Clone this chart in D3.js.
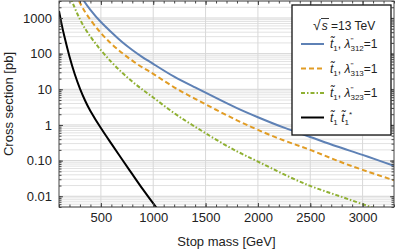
<!DOCTYPE html>
<html>
<head>
<meta charset="utf-8">
<script src="https://cdn.jsdelivr.net/npm/d3@7"></script>
<style>
  body { margin: 0; background: #fff; }
  text { font-family: "Liberation Sans", Arial, sans-serif; }
</style>
</head>
<body>
<div id="chart"></div>
<script>
// single stop masses (GeV) and cross sections (pb)
var stopMass = [200, 300, 400, 500, 600, 700, 800, 900, 1000, 1200, 1400, 1600, 1800, 2000, 2250, 2500, 2750, 3000, 3300];
var xsecL312 = [18000, 4600, 1690, 771, 401, 216, 127, 79, 51.7, 22.6, 11.3, 5.74, 2.97, 1.65, 0.84, 0.46, 0.252, 0.145, 0.071];
var xsecL313 = [12500, 2670, 891, 382, 190, 106, 63.7, 40.6, 27.2, 11.4, 5.43, 2.67, 1.35, 0.73, 0.366, 0.2, 0.102, 0.055, 0.028];
var xsecL323 = [4450, 920, 302, 125, 58.5, 29.9, 16.5, 9.67, 5.9, 2.15, 0.89, 0.39, 0.182, 0.094, 0.041, 0.0195, 0.0108, 0.006, 0.003];

// stop pair production
var pairMass = [100, 125, 150, 200, 250, 300, 350, 400, 500, 600, 700, 800, 900, 1000, 1100];
var pairXsec = [1585, 676, 316, 83, 26.9, 10.5, 4.79, 2.48, 0.82, 0.30, 0.111, 0.0417, 0.0158, 0.0063, 0.0026];

var yTicks = [1000, 100, 10, 1, 0.1, 0.01];
var yTickLabels = ["1000", "100", "10", "1", "0.10", "0.01"];
var xTicks = [500, 1000, 1500, 2000, 2500, 3000];

var svgWidth = 399;
var svgHeight = 252;

var chartMargin = {
    top: 1,
    right: 5,
    bottom: 45,
    left: 59
};

var chartWidth = svgWidth - chartMargin.left - chartMargin.right;
var chartHeight = svgHeight - chartMargin.top - chartMargin.bottom;

var svg = d3.select("#chart")
    .append("svg")
    .attr("height", svgHeight)
    .attr("width", svgWidth);

var chartGroup = svg.append("g")
    .attr("transform", `translate(${chartMargin.left},${chartMargin.top})`);

var xScale = d3.scaleLinear()
    .domain([100, 3300])
    .range([0, chartWidth]);

var yScale = d3.scaleLog()
    .domain([0.005, 3000])
    .range([chartHeight, 0]);

// grid
var minorY = [];
for (var e = -3; e <= 3; e++) {
    for (var k = 1; k <= 9; k++) {
        var v = k * Math.pow(10, e);
        if (v >= 0.005 && v <= 3000) minorY.push(v);
    }
}
var minorX = d3.range(100, 3301, 100);

chartGroup.append("g").selectAll("line")
    .data(minorY)
    .enter()
    .append("line")
    .attr("x1", 0)
    .attr("x2", chartWidth)
    .attr("y1", d => yScale(d))
    .attr("y2", d => yScale(d))
    .attr("stroke", d => yTicks.indexOf(d) >= 0 ? "#d4d4d4" : "#e2e2e2")
    .attr("stroke-width", 1);

chartGroup.append("g").selectAll("line")
    .data(xTicks)
    .enter()
    .append("line")
    .attr("x1", d => xScale(d))
    .attr("x2", d => xScale(d))
    .attr("y1", 0)
    .attr("y2", chartHeight)
    .attr("stroke", "#d8d8d8")
    .attr("stroke-width", 1);

// curves
svg.append("defs").append("clipPath")
    .attr("id", "plotClip")
    .append("rect")
    .attr("width", chartWidth)
    .attr("height", chartHeight);

var line = d3.line()
    .x(d => xScale(d[0]))
    .y(d => yScale(d[1]))
    .curve(d3.curveNatural);

var series = [
    { mass: stopMass, xsec: xsecL312, color: "#5E81B5", dash: null },
    { mass: stopMass, xsec: xsecL313, color: "#E19C24", dash: "5,3" },
    { mass: stopMass, xsec: xsecL323, color: "#8FB032", dash: "4,2,1.5,2" },
    { mass: pairMass, xsec: pairXsec, color: "#000000", dash: null }
];

var curves = chartGroup.append("g").attr("clip-path", "url(#plotClip)");
series.forEach(function(s) {
    curves.append("path")
        .datum(s.mass.map((m, i) => [m, s.xsec[i]]))
        .attr("d", line)
        .attr("fill", "none")
        .attr("stroke", s.color)
        .attr("stroke-width", 2)
        .attr("stroke-dasharray", s.dash);
});

// axes, ticks pointing inwards
function styleAxis(g) {
    g.select(".domain").remove();
    g.selectAll(".tick line").attr("stroke", "#444");
    g.selectAll(".tick text")
        .attr("fill", "#222")
        .style("font-size", "13px")
        .style("font-family", "'Liberation Sans', Arial, sans-serif");
}

var bottomAxis = d3.axisBottom(xScale).tickValues(xTicks).tickSize(-4).tickPadding(6).tickFormat(d3.format("d"));
var bottomMinor = d3.axisBottom(xScale).tickValues(minorX).tickSize(-2.5).tickFormat("");
var topAxis = d3.axisTop(xScale).tickValues(xTicks).tickSize(-4).tickFormat("");
var topMinor = d3.axisTop(xScale).tickValues(minorX).tickSize(-2.5).tickFormat("");

var leftAxis = d3.axisLeft(yScale).tickValues(yTicks).tickSize(-4).tickPadding(7)
    .tickFormat((d, i) => yTickLabels[i]);
var leftMinor = d3.axisLeft(yScale).tickValues(minorY).tickSize(-2.5).tickFormat("");
var rightAxis = d3.axisRight(yScale).tickValues(yTicks).tickSize(-4).tickFormat("");
var rightMinor = d3.axisRight(yScale).tickValues(minorY).tickSize(-2.5).tickFormat("");

chartGroup.append("g").attr("transform", `translate(0, ${chartHeight})`).call(bottomMinor).call(styleAxis);
chartGroup.append("g").attr("transform", `translate(0, ${chartHeight})`).call(bottomAxis).call(styleAxis);
chartGroup.append("g").call(topMinor).call(styleAxis);
chartGroup.append("g").call(topAxis).call(styleAxis);
chartGroup.append("g").call(leftMinor).call(styleAxis);
chartGroup.append("g").call(leftAxis).call(styleAxis);
chartGroup.append("g").attr("transform", `translate(${chartWidth}, 0)`).call(rightMinor).call(styleAxis);
chartGroup.append("g").attr("transform", `translate(${chartWidth}, 0)`).call(rightAxis).call(styleAxis);

// frame
chartGroup.append("rect")
    .attr("width", chartWidth)
    .attr("height", chartHeight)
    .attr("fill", "none")
    .attr("stroke", "#444")
    .attr("stroke-width", 1);

// axis titles
chartGroup.append("text")
    .text("Stop mass [GeV]")
    .attr("x", chartWidth / 2)
    .attr("y", chartHeight + 39)
    .attr("text-anchor", "middle")
    .attr("fill", "#222")
    .style("font-size", "13px");

chartGroup.append("text")
    .text("Cross section [pb]")
    .attr("x", 0 - (chartHeight / 2))
    .attr("y", 0 - 46)
    .attr("text-anchor", "middle")
    .attr("fill", "#222")
    .attr("transform", "rotate(-90)")
    .style("font-size", "13px");

// legend
var legend = svg.append("g").attr("transform", "translate(292, 5)");

legend.append("rect")
    .attr("width", 99)
    .attr("height", 130)
    .attr("fill", "#fff")
    .attr("stroke", "#111")
    .attr("stroke-width", 1.3);

var title = legend.append("text")
    .attr("x", 21)
    .attr("y", 25)
    .attr("fill", "#222")
    .style("font-size", "12px");
title.append("tspan").text("\u221A").style("font-size", "14px");
title.append("tspan").text("s").style("font-style", "italic").attr("dx", 1);
title.append("tspan").text(" =13 TeV");
legend.append("line")
    .attr("x1", 29).attr("x2", 37)
    .attr("y1", 13.5).attr("y2", 13.5)
    .attr("stroke", "#222").attr("stroke-width", 0.9);

var legendCodes = ["312", "313", "323"];
series.forEach(function(s, i) {
    var ly = 39 + i * 24.5;
    legend.append("line")
        .attr("x1", 9).attr("x2", 32)
        .attr("y1", ly).attr("y2", ly)
        .attr("stroke", s.color)
        .attr("stroke-width", 2)
        .attr("stroke-dasharray", s.dash);

    var t = legend.append("text")
        .attr("x", 38)
        .attr("y", ly + 4)
        .attr("fill", "#222")
        .style("font-size", "12px");
    t.append("tspan").text("t\u0303").style("font-style", "italic");
    t.append("tspan").text("1").style("font-size", "8px").attr("dy", 3);
    if (i < 3) {
        t.append("tspan").text(", ").attr("dy", -3);
        t.append("tspan").text("\u03BB").style("font-style", "italic");
        t.append("tspan").text("''").style("font-size", "8px").attr("dy", -5);
        t.append("tspan").text(legendCodes[i]).style("font-size", "8px").attr("dx", -3).attr("dy", 8);
        t.append("tspan").text("=1").attr("dy", -3);
    } else {
        t.append("tspan").text(" ").attr("dy", -3);
        t.append("tspan").text("t\u0303").style("font-style", "italic");
        t.append("tspan").text("1").style("font-size", "8px").attr("dy", 3);
        t.append("tspan").text("*").style("font-size", "8px").attr("dy", -8);
    }
});
</script>
</body>
</html>
